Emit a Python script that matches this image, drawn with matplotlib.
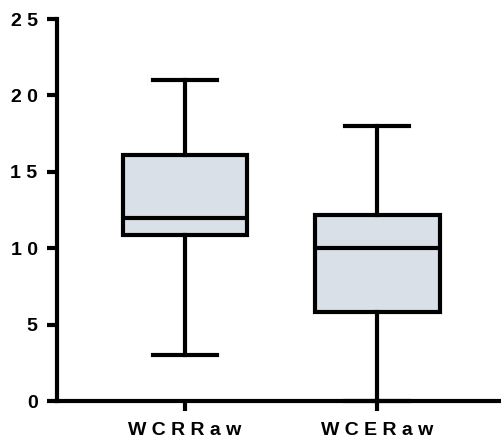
import matplotlib
matplotlib.use('Agg')
import matplotlib.pyplot as plt

# five-number summaries per group
groups = ['WCR Raw', 'WCE Raw']
whisker_low = [3.0, 0.0]
q1 = [10.85, 5.85]
median = [12.0, 10.0]
q3 = [16.1, 12.15]
whisker_high = [21.0, 18.0]

y_ticks = [0, 5, 10, 15, 20, 25]


def spaced(s):
    # letter-spaced labels, like the original software output
    return ' '.join(s.replace(' ', ''))


plt.rcParams['font.family'] = ['Liberation Sans', 'DejaVu Sans']
plt.rcParams['font.weight'] = 'bold'

fig = plt.figure(figsize=(5.02, 4.44), dpi=100)
ax = fig.add_axes([57 / 502, 43 / 444, 443 / 502, 382 / 444])

stats = []
for i, g in enumerate(groups):
    stats.append({
        'label': spaced(g),
        'whislo': whisker_low[i], 'q1': q1[i], 'med': median[i],
        'q3': q3[i], 'whishi': whisker_high[i], 'fliers': [],
    })

lw = 3.0
bp = ax.bxp(stats, positions=[1, 2], widths=0.65, patch_artist=True,
            showfliers=False,
            boxprops=dict(facecolor='#D9E0E8', edgecolor='black', linewidth=lw),
            medianprops=dict(color='black', linewidth=lw),
            whiskerprops=dict(color='black', linewidth=lw),
            capprops=dict(color='black', linewidth=lw),
            capwidths=0.33)
for art in bp['caps'] + bp['whiskers']:
    art.set_clip_on(False)

ax.set_xlim(0.333, 2.64)
ax.set_ylim(0, 25)
ax.set_yticks(y_ticks)
ax.set_yticklabels([spaced(str(t)) for t in y_ticks])

for side in ['top', 'right']:
    ax.spines[side].set_visible(False)
for side in ['left', 'bottom']:
    ax.spines[side].set_linewidth(lw)
ax.tick_params(axis='both', width=lw, length=7)
ax.tick_params(axis='y', pad=7, labelsize=14)
ax.tick_params(axis='x', pad=8, labelsize=14)
for lab in ax.get_xticklabels() + ax.get_yticklabels():
    lab.set_fontweight('heavy')

plt.savefig('out.png', dpi=100)
plt.close()
